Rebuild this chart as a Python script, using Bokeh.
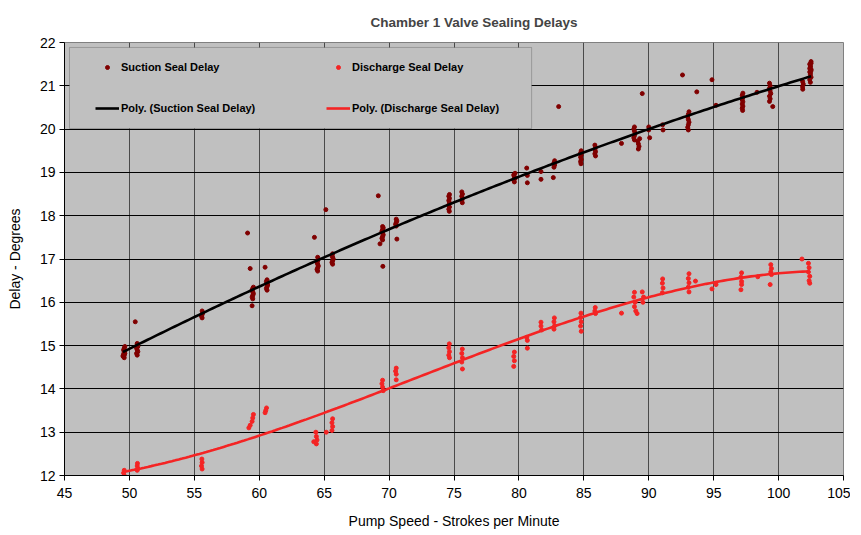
import numpy as np
from bokeh.plotting import figure
from bokeh.models import Legend, LegendItem, BoxAnnotation, FixedTicker, Range1d
from bokeh.embed import file_html
from bokeh.resources import INLINE

# ---------------- data ----------------
suction_speed = [
    49.55, 49.6, 49.65, 49.6, 49.55, 49.6, 49.65,
    49.5, 49.55, 49.6, 49.65, 49.6,
    50.6, 50.55, 50.65, 50.6, 50.55, 50.65, 50.6, 50.6,
    50.45,
    55.6, 55.55, 55.6, 55.65, 55.6,
    59.1, 59.3,
    59.5, 59.45, 59.5, 59.55, 59.5, 59.45, 59.5, 59.55,
    59.45, 60.45,
    60.6, 60.55, 60.6, 60.65, 60.6, 60.55, 60.6,
    64.25, 65.13,
    64.5, 64.45, 64.5, 64.55, 64.5, 64.45, 64.5, 64.55, 64.5,
    65.65, 65.6, 65.65, 65.7, 65.65, 65.6, 65.65,
    69.17,
    69.5, 69.45, 69.5, 69.55, 69.5, 69.45, 69.5, 69.55, 69.5,
    69.3, 69.52,
    70.55, 70.5, 70.55, 70.6, 70.55,
    70.6,
    74.64, 74.6, 74.65, 74.6, 74.65, 74.6, 74.65, 74.6, 74.65,
    75.64, 75.6, 75.65, 75.6, 75.65, 75.6,
    79.65, 79.6, 79.7, 79.65, 79.6, 79.7,
    80.6, 80.65, 80.65,
    81.7, 81.7,
    82.7, 82.75, 82.7, 82.75,
    82.65, 83.06,
    84.78, 84.75, 84.8, 84.75, 84.8, 84.75, 84.8,
    85.9, 85.85, 85.9, 85.85, 85.9, 85.85,
    87.9,
    88.9, 88.85, 88.9, 88.95, 88.9, 88.85, 88.9,
    89.2, 89.25, 89.2, 89.15, 89.3,
    89.5,
    90.0, 90.0, 90.07,
    91.07, 91.1,
    92.6,
    93.05, 93.0, 93.05, 93.1, 93.05, 93.0, 93.05, 93.1,
    93.7, 94.87, 95.18,
    97.23, 97.2, 97.25, 97.2, 97.25, 97.2, 97.25, 97.2, 97.25,
    98.34,
    99.3, 99.35, 99.3, 99.4, 99.35, 99.3, 99.35, 99.3,
    99.55,
    101.86, 101.85, 101.9, 101.85,
    102.45, 102.4, 102.5, 102.45, 102.4, 102.5, 102.45, 102.4, 102.5,
    102.45, 102.5, 102.4, 102.45, 102.5,
]
suction_delay = [
    14.74, 14.78, 14.82, 14.86, 14.90, 14.94, 14.98,
    14.76, 14.8, 14.84, 14.88, 14.72,
    14.78, 14.82, 14.86, 14.90, 14.94, 14.98, 15.02, 15.05,
    15.55,
    15.64, 15.68, 15.72, 15.76, 15.80,
    17.6, 16.78,
    16.08, 16.12, 16.16, 16.2, 16.24, 16.28, 16.32, 16.35,
    15.92, 16.81,
    16.28, 16.32, 16.36, 16.4, 16.44, 16.48, 16.52,
    17.5, 18.14,
    16.72, 16.76, 16.8, 16.84, 16.88, 16.92, 16.96, 17.0, 17.04,
    16.88, 16.92, 16.96, 17.0, 17.04, 17.08, 17.12,
    18.46,
    17.44, 17.48, 17.52, 17.56, 17.6, 17.64, 17.68, 17.72, 17.75,
    17.35, 16.83,
    17.76, 17.8, 17.84, 17.88, 17.92,
    17.46,
    18.1, 18.15, 18.2, 18.25, 18.3, 18.35, 18.4, 18.45, 18.49,
    18.3, 18.35, 18.4, 18.45, 18.5, 18.55,
    18.78, 18.82, 18.86, 18.9, 18.94, 18.98,
    19.1, 18.93, 18.76,
    19.02, 18.84,
    19.12, 19.17, 19.22, 19.27,
    18.88, 20.52,
    19.2, 19.25, 19.3, 19.35, 19.4, 19.45, 19.5,
    19.38, 19.43, 19.48, 19.53, 19.58, 19.63,
    19.67,
    19.75, 19.8, 19.85, 19.9, 19.95, 20.0, 20.05,
    19.54, 19.6, 19.66, 19.72, 19.78,
    20.82,
    20.05, 19.98, 19.8,
    20.1, 19.98,
    21.25,
    19.98, 20.04, 20.1, 20.16, 20.22, 20.28, 20.34, 20.4,
    20.86, 21.14, 20.55,
    20.43, 20.48, 20.53, 20.58, 20.63, 20.68, 20.73, 20.78, 20.83,
    20.85,
    20.64, 20.7, 20.76, 20.82, 20.88, 20.94, 21.0, 21.06,
    20.52,
    20.92, 20.98, 21.04, 21.1,
    21.08, 21.14, 21.2, 21.26, 21.32, 21.38, 21.44, 21.5, 21.56,
    21.3, 21.35, 21.4, 21.46, 21.52,
]

discharge_speed = [
    49.6, 49.55, 49.6, 49.6,
    50.62, 50.6, 50.65, 50.6,
    55.58, 55.6, 55.55, 55.6,
    59.55, 59.5, 59.45, 59.3, 59.2,
    60.56, 60.5, 60.45,
    64.36, 64.4, 64.45, 64.4, 64.2,
    65.16,
    65.65, 65.6, 65.65, 65.6,
    69.5, 69.45, 69.5, 69.55,
    70.55, 70.5, 70.55, 70.55,
    74.64, 74.6, 74.65, 74.6, 74.65,
    75.64, 75.6, 75.65, 75.6, 75.65,
    79.65, 79.6, 79.65, 79.6,
    80.6, 80.65, 80.65,
    81.7, 81.7, 81.75,
    82.73, 82.7, 82.75, 82.7,
    84.78, 84.75, 84.8, 84.75, 84.8,
    85.88, 85.85, 85.9,
    87.9,
    88.9, 88.85, 88.95, 88.9, 89.0, 89.1,
    89.5, 89.6, 89.55,
    91.07, 91.05, 91.1, 91.05,
    93.1, 93.05, 93.1, 93.05, 93.1,
    93.6, 94.87, 95.18,
    97.15, 97.1, 97.15, 97.15, 97.1,
    98.4,
    99.4, 99.45, 99.4, 99.45, 99.35,
    101.8,
    102.3, 102.35, 102.3, 102.4, 102.35, 102.4,
]
discharge_delay = [
    12.12, 12.06, 12.0, 11.97,
    12.28, 12.22, 12.16, 12.12,
    12.38, 12.3, 12.22, 12.15,
    13.41, 13.33, 13.25, 13.16, 13.1,
    13.56, 13.5, 13.45,
    13.0, 12.9, 12.82, 12.73, 12.78,
    13.0,
    13.31, 13.22, 13.13, 13.04,
    14.2, 14.12, 14.04, 13.96,
    14.48, 14.41, 14.34, 14.21,
    15.04, 14.95, 14.86, 14.78, 14.72,
    14.92, 14.82, 14.72, 14.62, 14.46,
    14.85, 14.75, 14.65, 14.52,
    15.19, 15.12, 14.94,
    15.54, 15.45, 15.36,
    15.64, 15.55, 15.46, 15.38,
    15.75, 15.65, 15.55, 15.45, 15.33,
    15.88, 15.8, 15.74,
    15.75,
    16.23, 16.12, 16.0, 15.9, 15.8, 15.74,
    16.24, 16.12, 16.0,
    16.54, 16.44, 16.33, 16.22,
    16.66, 16.55, 16.45, 16.35, 16.24,
    16.49, 16.31, 16.41,
    16.68, 16.58, 16.48, 16.41, 16.29,
    16.59,
    16.87, 16.78, 16.7, 16.64, 16.41,
    17.0,
    16.9, 16.8, 16.7, 16.6, 16.5, 16.44,
]

x_ticks = [45, 50, 55, 60, 65, 70, 75, 80, 85, 90, 95, 100, 105]
y_ticks = [12, 13, 14, 15, 16, 17, 18, 19, 20, 21, 22]

# polynomial trendlines (as Excel "Poly." trendlines) fitted to the data
def trend(xs, ys, deg):
    c = np.polyfit(xs, ys, deg)
    xx = np.linspace(min(xs), max(xs), 200)
    return xx, np.polyval(c, xx)

sx_fit, sy_fit = trend(suction_speed, suction_delay, 2)
dx_fit, dy_fit = trend(discharge_speed, discharge_delay, 3)

FONT = "Liberation Sans"
SUCTION = "#800000"
DISCHARGE = "#F42424"

p = figure(
    output_backend="svg", toolbar_location=None,
    frame_width=779, frame_height=433,
    min_border_left=64, min_border_right=7, min_border_top=42, min_border_bottom=52,
    x_range=Range1d(45, 105), y_range=Range1d(12, 22),
    background_fill_color="#C0C0C0", border_fill_color="white",
)
p.outline_line_color = "#808080"
p.outline_line_width = 1

p.title.text = "Chamber 1 Valve Sealing Delays"
p.title.align = "left"
p.title.text_font = FONT
p.title.text_font_size = "13.5px"
p.title.text_font_style = "bold"
p.title.offset = 306
p.title.standoff = 25

for ax in (p.xaxis[0], p.yaxis[0]):
    ax.axis_line_color = "black"
    ax.major_tick_line_color = "black"
    ax.major_tick_out = 5
    ax.major_tick_in = 0
    ax.minor_tick_line_color = None
    ax.major_label_text_font = FONT
    ax.major_label_text_font_size = "14px"
    ax.major_label_text_color = "black"
    ax.axis_label_text_font = FONT
    ax.axis_label_text_font_size = "14px"
    ax.axis_label_text_font_style = "normal"
    ax.axis_label_text_color = "black"

p.xaxis.ticker = FixedTicker(ticks=x_ticks)
p.yaxis.ticker = FixedTicker(ticks=y_ticks)
p.xaxis.axis_label = "Pump Speed - Strokes per Minute"
p.yaxis.axis_label = "Delay - Degrees"
p.xaxis.major_label_standoff = 7
p.xaxis.axis_label_standoff = 12
p.yaxis.major_label_standoff = 4
p.yaxis.axis_label_standoff = 14

p.xgrid.grid_line_color = "#4a4a4a"
p.xgrid.grid_line_width = 1
p.ygrid.grid_line_color = "black"
p.ygrid.grid_line_width = 1

s_pts = p.scatter(suction_speed, suction_delay, size=4, marker="circle",
                  fill_color=SUCTION, line_color=SUCTION)
d_pts = p.scatter(discharge_speed, discharge_delay, size=4, marker="circle",
                  fill_color=DISCHARGE, line_color=DISCHARGE)
s_line = p.line(sx_fit, sy_fit, line_color="black", line_width=2.6)
d_line = p.line(dx_fit, dy_fit, line_color=DISCHARGE, line_width=2.6)

# legend background box
box = BoxAnnotation(left=45.385, right=80.98, top=21.885, bottom=20.014,
                    fill_color="#C0C0C0", fill_alpha=1.0,
                    line_color="#404040", line_width=1, level="annotation")
p.add_layout(box)

def make_legend(items, loc):
    lg = Legend(items=items, location=loc, orientation="vertical",
                background_fill_alpha=0, border_line_alpha=0,
                padding=0, margin=0, spacing=21,
                glyph_height=10, glyph_width=24, label_height=20,
                label_standoff=2, label_text_font=FONT,
                label_text_font_size="11px", label_text_font_style="bold",
                label_text_color="black")
    return lg

lg1 = make_legend([LegendItem(label="Suction Seal Delay", renderers=[s_pts]),
                   LegendItem(label="Poly. (Suction Seal Delay)", renderers=[s_line])],
                  (31, 357))
lg2 = make_legend([LegendItem(label="Discharge Seal Delay", renderers=[d_pts]),
                   LegendItem(label="Poly. (Discharge Seal Delay)", renderers=[d_line])],
                  (262, 357))
p.add_layout(lg1)
p.add_layout(lg2)

open("out.html", "w").write(file_html(p, INLINE))
